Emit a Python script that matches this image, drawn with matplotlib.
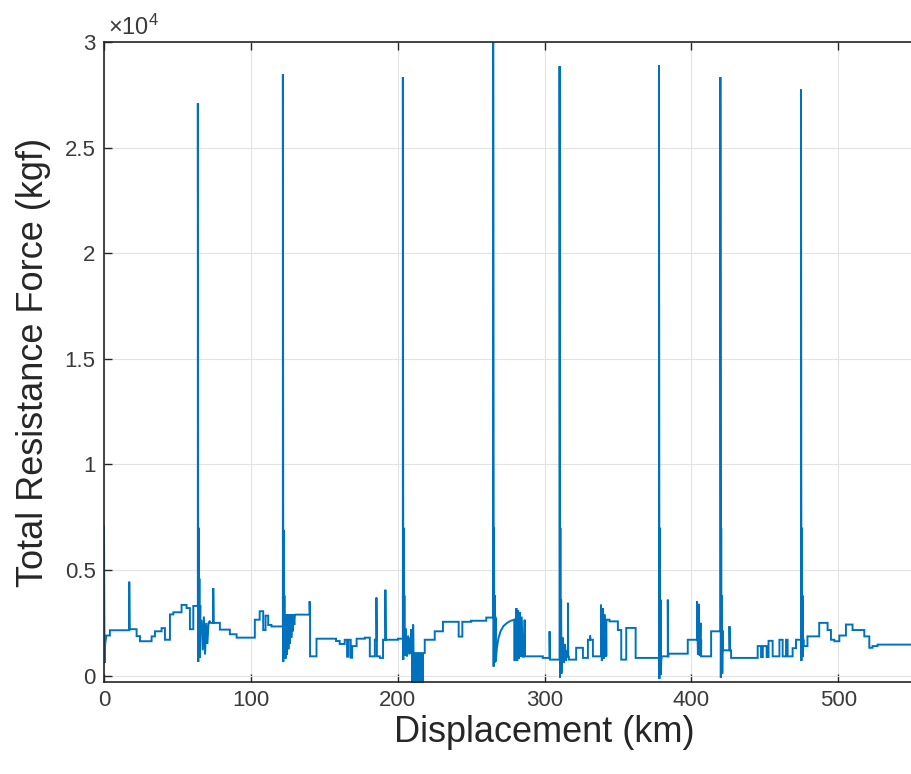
import matplotlib
matplotlib.use("Agg")
import matplotlib.pyplot as plt
from matplotlib.ticker import FuncFormatter, MultipleLocator, FixedLocator

plt.rcParams["font.family"] = ["Liberation Sans", "DejaVu Sans"]
plt.rcParams["mathtext.fontset"] = "custom"
plt.rcParams["mathtext.rm"] = "Liberation Sans"
plt.rcParams["mathtext.it"] = "Liberation Sans"

LINE = "#0072BD"
INK = "#262626"

# Baseline running resistance: position (km) where each level starts, level (kgf)
step_km = [0.0, 4.0, 17.2, 22.2, 24.5, 32.4, 34.7, 39.2, 41.5, 44.9, 47.2, 52.8,
           56.2, 58.5, 60.8, 65.6, 72.1, 78.9, 85.7, 90.3, 102.7, 106.0, 108.4,
           110.0, 111.8, 114.0, 123.5, 130.0, 140.3, 144.7, 158.0, 160.5, 163.9,
           165.5, 166.5, 168.0, 169.0, 172.0, 177.6, 181.0, 184.4, 185.8, 187.8,
           190.0, 200.2, 205.2, 209.3, 218.4, 225.2, 230.8, 241.5, 244.0, 250.0,
           260.3, 266.7, 279.6, 286.4, 298.8, 303.7, 311.9, 316.5, 321.5, 326.1,
           329.5, 332.9, 342.0, 344.2, 349.9, 352.2, 355.6, 362.0, 379.6, 384.3,
           397.5, 406.6, 413.4, 421.4, 427.0, 445.1, 447.4, 448.6, 451.2, 452.5,
           455.3, 459.9, 462.1, 464.4, 465.5, 468.9, 471.2, 476.3, 479.0, 487.0,
           492.7, 495.0, 497.3, 500.7, 505.2, 509.7, 517.7, 521.1, 523.3, 526.7]
step_kgf = [1900, 2150, 2200, 1870, 1630, 1860, 2100, 2250, 1700, 2900, 3000, 3350,
            3200, 2200, 3300, 2600, 2500, 2180, 1960, 1800, 2650, 3050, 2160,
            2840, 2400, 2330, 2900, 2890, 915, 1750, 1640, 1500, 1700,
            900, 1700, 850, 1400, 1750, 1800, 915, 1700, 915, 840,
            1700, 1750, 2200, 1070, 1700, 2100, 2550, 1850, 2550, 2600,
            2750, 700, 2650, 915, 840, 760, 900, 760, 1320, 840,
            1700, 915, 2650, 2570, 2160, 760, 2260, 840, 915, 1040,
            1700, 915, 2100, 1200, 840, 1400, 880, 1400, 880, 1650,
            915, 1700, 915, 1700, 915, 1300, 1700, 1400, 1860, 2500,
            2160, 1700, 1630, 1900, 2420, 2160, 1860, 1320, 1400, 1470]
end_km = 600.0

# Main resistance peaks
peak_km = [63.9, 121.8, 203.5, 265.0, 310.2, 377.9, 419.7, 474.6]
peak_kgf = [27100, 28480, 28340, 30000, 28860, 28900, 28340, 27770]
peak_low_kgf = [650, 650, 750, 430, -100, -150, -100, 700]
peak_mid_kgf = [7000, 6900, 7000, 7000, 7000, 7000, 7000, 7000]
peak_tail_kgf = [4600, 3800, 3800, 3800, 3600, 3600, 3800, 3800]

# Short isolated spikes
blip_km = [17.2, 74.4, 140.0, 185.5, 191.6, 210.5, 303.4, 315.9, 331.0, 383.9, 425.9]
blip_kgf = [4450, 4150, 3520, 3700, 4070, 2420, 2100, 3450, 1900, 3600, 2340]

# Oscillating stretches (km, kgf)
start_km = [0.0, 0.0, 0.35, 0.8, 1.6]
start_kgf = [7100, 7100, 600, 1500, 1900]
osc1_km = [66.4, 67.2, 68.0, 68.8, 69.6, 70.4, 71.2]
osc1_kgf = [2600, 1200, 2800, 1000, 2500, 1500, 2500]
ring2_km = [123.6, 124.1, 124.6, 125.1, 125.6, 126.1, 126.6, 127.1, 127.6, 128.1,
            128.6, 129.1, 129.6]
ring2_kgf = [800, 2900, 1000, 2900, 1250, 2900, 1500, 2900, 1800, 2900, 2100,
             2900, 2400]
osc3_km = [205.5, 206.3, 207.1, 207.9, 208.6, 209.2]
osc3_kgf = [2200, 900, 1900, 1000, 1800, 1070]
curve4_km = [266.8, 267.5, 268.5, 270.0, 272.0, 274.5, 277.0, 279.6]
curve4_kgf = [700, 1300, 1750, 2100, 2350, 2500, 2600, 2650]
osc4_km = [280.8, 280.8, 281.4, 282.0, 282.6, 283.2, 283.8, 284.4, 285.2, 286.3]
osc4_kgf = [2650, 3200, 700, 3100, 800, 3000, 900, 2800, 900, 915]
osc5_km = [312.5, 313.2, 313.9, 314.6, 315.2]
osc5_kgf = [1800, 600, 1500, 700, 1200]
osc6_km = [338.4, 338.4, 339.0, 339.6, 340.2, 340.8, 341.4, 341.9]
osc6_kgf = [915, 3360, 700, 3200, 800, 2900, 900, 2650]
osc7_km = [403.8, 403.8, 404.4, 405.0, 405.6, 406.2, 406.5]
osc7_kgf = [1700, 3520, 1000, 3400, 950, 2500, 915]

# Dense braking band (km range, kgf range)
band_km = [209.3, 217.9]
band_kgf = [-600, 1070]

# Tick labels
x_ticks_km = [0, 100, 200, 300, 400, 500]


def level_at(x):
    lvl = step_kgf[0]
    for k, v in zip(step_km, step_kgf):
        if k <= x:
            lvl = v
    return lvl


pieces = []
for i, (k, v) in enumerate(zip(step_km, step_kgf)):
    prev = step_kgf[i - 1] if i else v
    pieces.append([(k, prev), (k, v)])
for x, p, lo, mid, tail in zip(peak_km, peak_kgf, peak_low_kgf, peak_mid_kgf, peak_tail_kgf):
    pieces.append([(x, level_at(x)), (x, p), (x + 0.3, lo), (x + 0.55, mid),
                   (x + 0.8, lo + 300), (x + 1.05, tail), (x + 1.3, lo + 200),
                   (x + 1.6, level_at(x + 1.6))])
for x, h in zip(blip_km, blip_kgf):
    pieces.append([(x, level_at(x)), (x, h), (x + 0.2, level_at(x + 0.2))])
for xs, ys in [(start_km, start_kgf), (osc1_km, osc1_kgf), (ring2_km, ring2_kgf),
               (osc3_km, osc3_kgf), (curve4_km, curve4_kgf), (osc4_km, osc4_kgf),
               (osc5_km, osc5_kgf), (osc6_km, osc6_kgf), (osc7_km, osc7_kgf)]:
    pieces.append(list(zip(xs, ys)))
pieces.sort(key=lambda pc: pc[0][0])

xs, ys = [], []
for pc in pieces:
    for x, y in pc:
        xs.append(x)
        ys.append(y)
xs.append(end_km)
ys.append(step_kgf[-1])

# The axes run 0-600 km; the canvas ends a little past 549 km.
fig = plt.figure(figsize=(9.12, 7.74), dpi=100)
px_per_km = (911 - 104) / 549.5
ax_right = 104 + px_per_km * 600
ax = fig.add_axes([104 / 912, 1 - 682 / 774, (ax_right - 104) / 912, (682 - 42) / 774])

ax.fill_between(band_km, band_kgf[0], band_kgf[1], color=LINE, lw=0)
ax.plot(xs, ys, color=LINE, lw=1.4, solid_joinstyle="miter")

ax.set_xlim(0, end_km)
ax.set_ylim(-300, 30000)
ax.xaxis.set_major_locator(FixedLocator(x_ticks_km))
ax.yaxis.set_major_locator(MultipleLocator(5000))
ax.yaxis.set_major_formatter(FuncFormatter(lambda v, _: f"{v / 1e4:g}"))

ax.grid(True, color="#e3e3e3", lw=0.8)
ax.set_axisbelow(True)
for s in ax.spines.values():
    s.set_color(INK)
    s.set_linewidth(1.2)
ax.tick_params(direction="in", length=6, width=1.0, colors=INK, labelsize=16,
               top=True, right=True, pad=6)
for lab in ax.get_xticklabels() + ax.get_yticklabels():
    lab.set_color("#3a3a3a")

ax.text(0.0045, 1.004, r"$\times10^{4}$", transform=ax.transAxes, fontsize=17,
        color="#3a3a3a", ha="left", va="bottom")
ax.set_xlabel("Displacement (km)", fontsize=26, color=INK, labelpad=3)
ax.set_ylabel("Total Resistance Force (kgf)", fontsize=26, color=INK, labelpad=10)

fig.savefig("out.png", dpi=100)
